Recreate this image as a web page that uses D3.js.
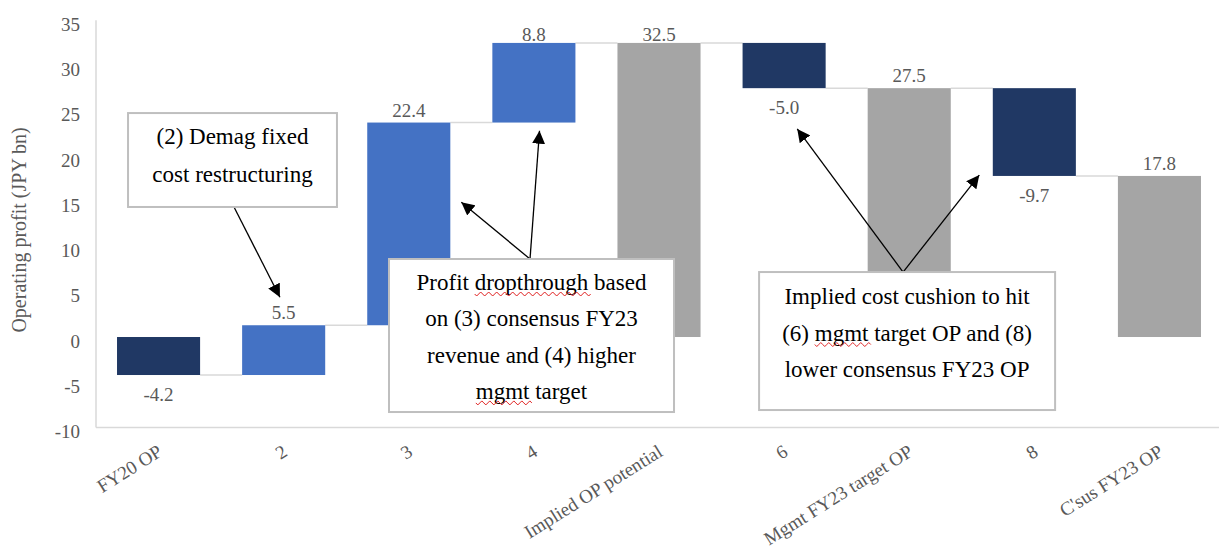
<!DOCTYPE html>
<html>
<head>
<meta charset="utf-8">
<script src="https://cdn.jsdelivr.net/npm/d3@7"></script>
<style>
  html, body { margin: 0; padding: 0; background: #fff; }
  svg { display: block; }
  text { font-family: "Liberation Serif", "Times New Roman", serif; }
</style>
</head>
<body>
<svg id="chart" width="1219" height="554"></svg>
<script>
// ---- data ----
const categories = ["FY20 OP", "2", "3", "4", "Implied OP potential", "6", "Mgmt FY23 target OP", "8", "C'sus FY23 OP"];
const values     = [-4.2, 5.5, 22.4, 8.8, 32.5, -5.0, 27.5, -9.7, 17.8];
const kinds      = ["start", "up", "up", "up", "total", "down", "total", "down", "total"];
const yTicks     = [-10, -5, 0, 5, 10, 15, 20, 25, 30, 35];
const yTitle     = "Operating profit (JPY bn)";

const note1Lines = ["(2) Demag fixed", "cost restructuring"];
const note2Lines = ["Profit dropthrough based", "on (3) consensus FY23", "revenue and (4) higher", "mgmt target"];
const note3Lines = ["Implied cost cushion to hit", "(6) mgmt target OP and (8)", "lower consensus FY23 OP"];
// words flagged with a spell-check squiggle: [line index, word]
const note2Flags = [[0, "dropthrough"], [3, "mgmt"]];
const note3Flags = [[1, "mgmt"]];

// ---- layout ----
const W = 1219, H = 554;
const plot = { left: 96, right: 1222, top: 20.3, bottom: 427.5 };
const colors = { start: "#203864", down: "#203864", up: "#4472C4", total: "#A5A5A5" };
const fmt = v => d3.format(".1f")(v).replace("\u2212", "-");

const svg = d3.select("#chart");
svg.append("rect").attr("width", W).attr("height", H).attr("fill", "#fff");

const x = d3.scaleBand().domain(categories).range([plot.left, plot.right]).paddingInner(0.336).paddingOuter(0.168);
const y = d3.scaleLinear().domain([-10, 35]).range([plot.bottom, plot.top]);
// fractional band position -> pixel
const xf = f => plot.left + x.step() * f;

// waterfall geometry
let run = 0;
const bars = categories.map((c, i) => {
  const v = values[i], k = kinds[i];
  let lo, hi, end;
  if (k === "start" || k === "total") {
    lo = Math.min(0, v); hi = Math.max(0, v); end = v;
  } else {
    end = run + v; lo = Math.min(run, end); hi = Math.max(run, end);
  }
  const b = { c, v, k, lo, hi, end };
  run = end;
  return b;
});

// axes
svg.append("line").attr("x1", plot.left).attr("x2", plot.left).attr("y1", plot.top).attr("y2", plot.bottom)
  .attr("stroke", "#d9d9d9").attr("stroke-width", 1.5);
svg.append("line").attr("x1", plot.left).attr("x2", W).attr("y1", plot.bottom).attr("y2", plot.bottom)
  .attr("stroke", "#d9d9d9").attr("stroke-width", 1.5);

const yAxis = svg.append("g").attr("transform", `translate(${plot.left - 16},0)`)
  .call(d3.axisLeft(y).tickValues(yTicks).tickSize(0).tickPadding(0).tickFormat(d => String(d)));
yAxis.select(".domain").remove();
yAxis.selectAll("text").attr("font-family", "Liberation Serif").attr("font-size", 19)
  .attr("fill", "#595959").attr("dy", null).attr("y", 10).attr("x", 0);

svg.append("text").attr("transform", `translate(26,${(plot.top + plot.bottom) / 2 + 6}) rotate(-90)`)
  .attr("text-anchor", "middle").attr("font-size", 20).attr("fill", "#595959").text(yTitle);

// x labels
svg.append("g").selectAll("text").data(categories).join("text")
  .attr("transform", d => `translate(${x(d) + x.bandwidth() / 2 + 5},455) rotate(-32)`)
  .attr("text-anchor", "end").attr("font-size", 19).attr("fill", "#595959").text(d => d);

// connectors
svg.append("g").selectAll("line").data(bars.slice(0, -1)).join("line")
  .attr("x1", d => x(d.c) + x.bandwidth())
  .attr("x2", (d, i) => x(bars[i + 1].c))
  .attr("y1", d => y(d.end)).attr("y2", d => y(d.end))
  .attr("stroke", "#d9d9d9").attr("stroke-width", 1.5);

// bars
svg.append("g").selectAll("rect").data(bars).join("rect")
  .attr("x", d => x(d.c)).attr("width", x.bandwidth())
  .attr("y", d => y(d.hi)).attr("height", d => y(d.lo) - y(d.hi))
  .attr("fill", d => colors[d.k]);

// value labels
svg.append("g").selectAll("text").data(bars).join("text")
  .attr("x", d => x(d.c) + x.bandwidth() / 2)
  .attr("y", d => d.v >= 0 ? Math.max(y(d.hi) - 6, plot.top + 21) : y(d.lo) + 26)
  .attr("text-anchor", "middle").attr("font-size", 19).attr("fill", "#595959")
  .text(d => fmt(d.v));

// annotations
const defs = svg.append("defs");
defs.append("marker").attr("id", "arr").attr("viewBox", "0 0 10 10").attr("refX", 10).attr("refY", 5)
  .attr("markerWidth", 13).attr("markerHeight", 13).attr("markerUnits", "userSpaceOnUse").attr("orient", "auto")
  .append("path").attr("d", "M0,0 L10,5 L0,10 Z").attr("fill", "#000");

function note(box, lines, firstBase, lineGap, arrows, flags) {
  const g = svg.append("g");
  arrows.forEach(a => {
    g.append("line").attr("x1", xf(a[0])).attr("y1", y(a[1])).attr("x2", xf(a[2])).attr("y2", y(a[3]))
      .attr("stroke", "#000").attr("stroke-width", 1.3).attr("marker-end", "url(#arr)");
  });
  const x0 = xf(box[0]), x1 = xf(box[1]), y0 = y(box[2]), y1 = y(box[3]);
  g.append("rect").attr("x", x0).attr("y", y0).attr("width", x1 - x0).attr("height", y1 - y0)
    .attr("fill", "#fff").attr("stroke", "#bfbfbf").attr("stroke-width", 2);
  const cx = (x0 + x1) / 2;
  const texts = lines.map((t, i) => g.append("text").attr("x", cx).attr("y", y0 + firstBase + i * lineGap)
    .attr("text-anchor", "middle").attr("font-size", 23).attr("fill", "#000").text(t));
  (flags || []).forEach(([li, word]) => {
    const node = texts[li].node();
    const full = lines[li];
    const idx = full.indexOf(word);
    const total = node.getComputedTextLength();
    const startX = cx - total / 2 + (idx > 0 ? node.getSubStringLength(0, idx) : 0);
    const wlen = node.getSubStringLength(idx, word.length);
    const by = y0 + firstBase + li * lineGap + 4;
    let d = `M${startX},${by}`;
    for (let px = 0; px < wlen; px += 4) {
      d += ` l2,${(px / 4) % 2 === 0 ? 2 : -2} l2,${(px / 4) % 2 === 0 ? -2 : 2}`;
    }
    g.append("path").attr("d", d).attr("fill", "none").attr("stroke", "#e02020").attr("stroke-width", 1);
  });
}

note([0.256, 1.926, 24.75, 14.37], note1Lines, 31, 38,
  [[1.103, 14.37, 1.47, 4.4]]);
note([2.342, 4.620, 8.62, -8.29], note2Lines, 31, 36.3,
  [[3.469, 8.62, 2.92, 14.9], [3.469, 8.62, 3.545, 22.8]], note2Flags);
note([5.300, 7.666, 7.18, -8.07], note3Lines, 32, 36.5,
  [[6.451, 7.18, 5.605, 23.0], [6.451, 7.18, 7.06, 17.9]], note3Flags);
</script>
</body>
</html>
